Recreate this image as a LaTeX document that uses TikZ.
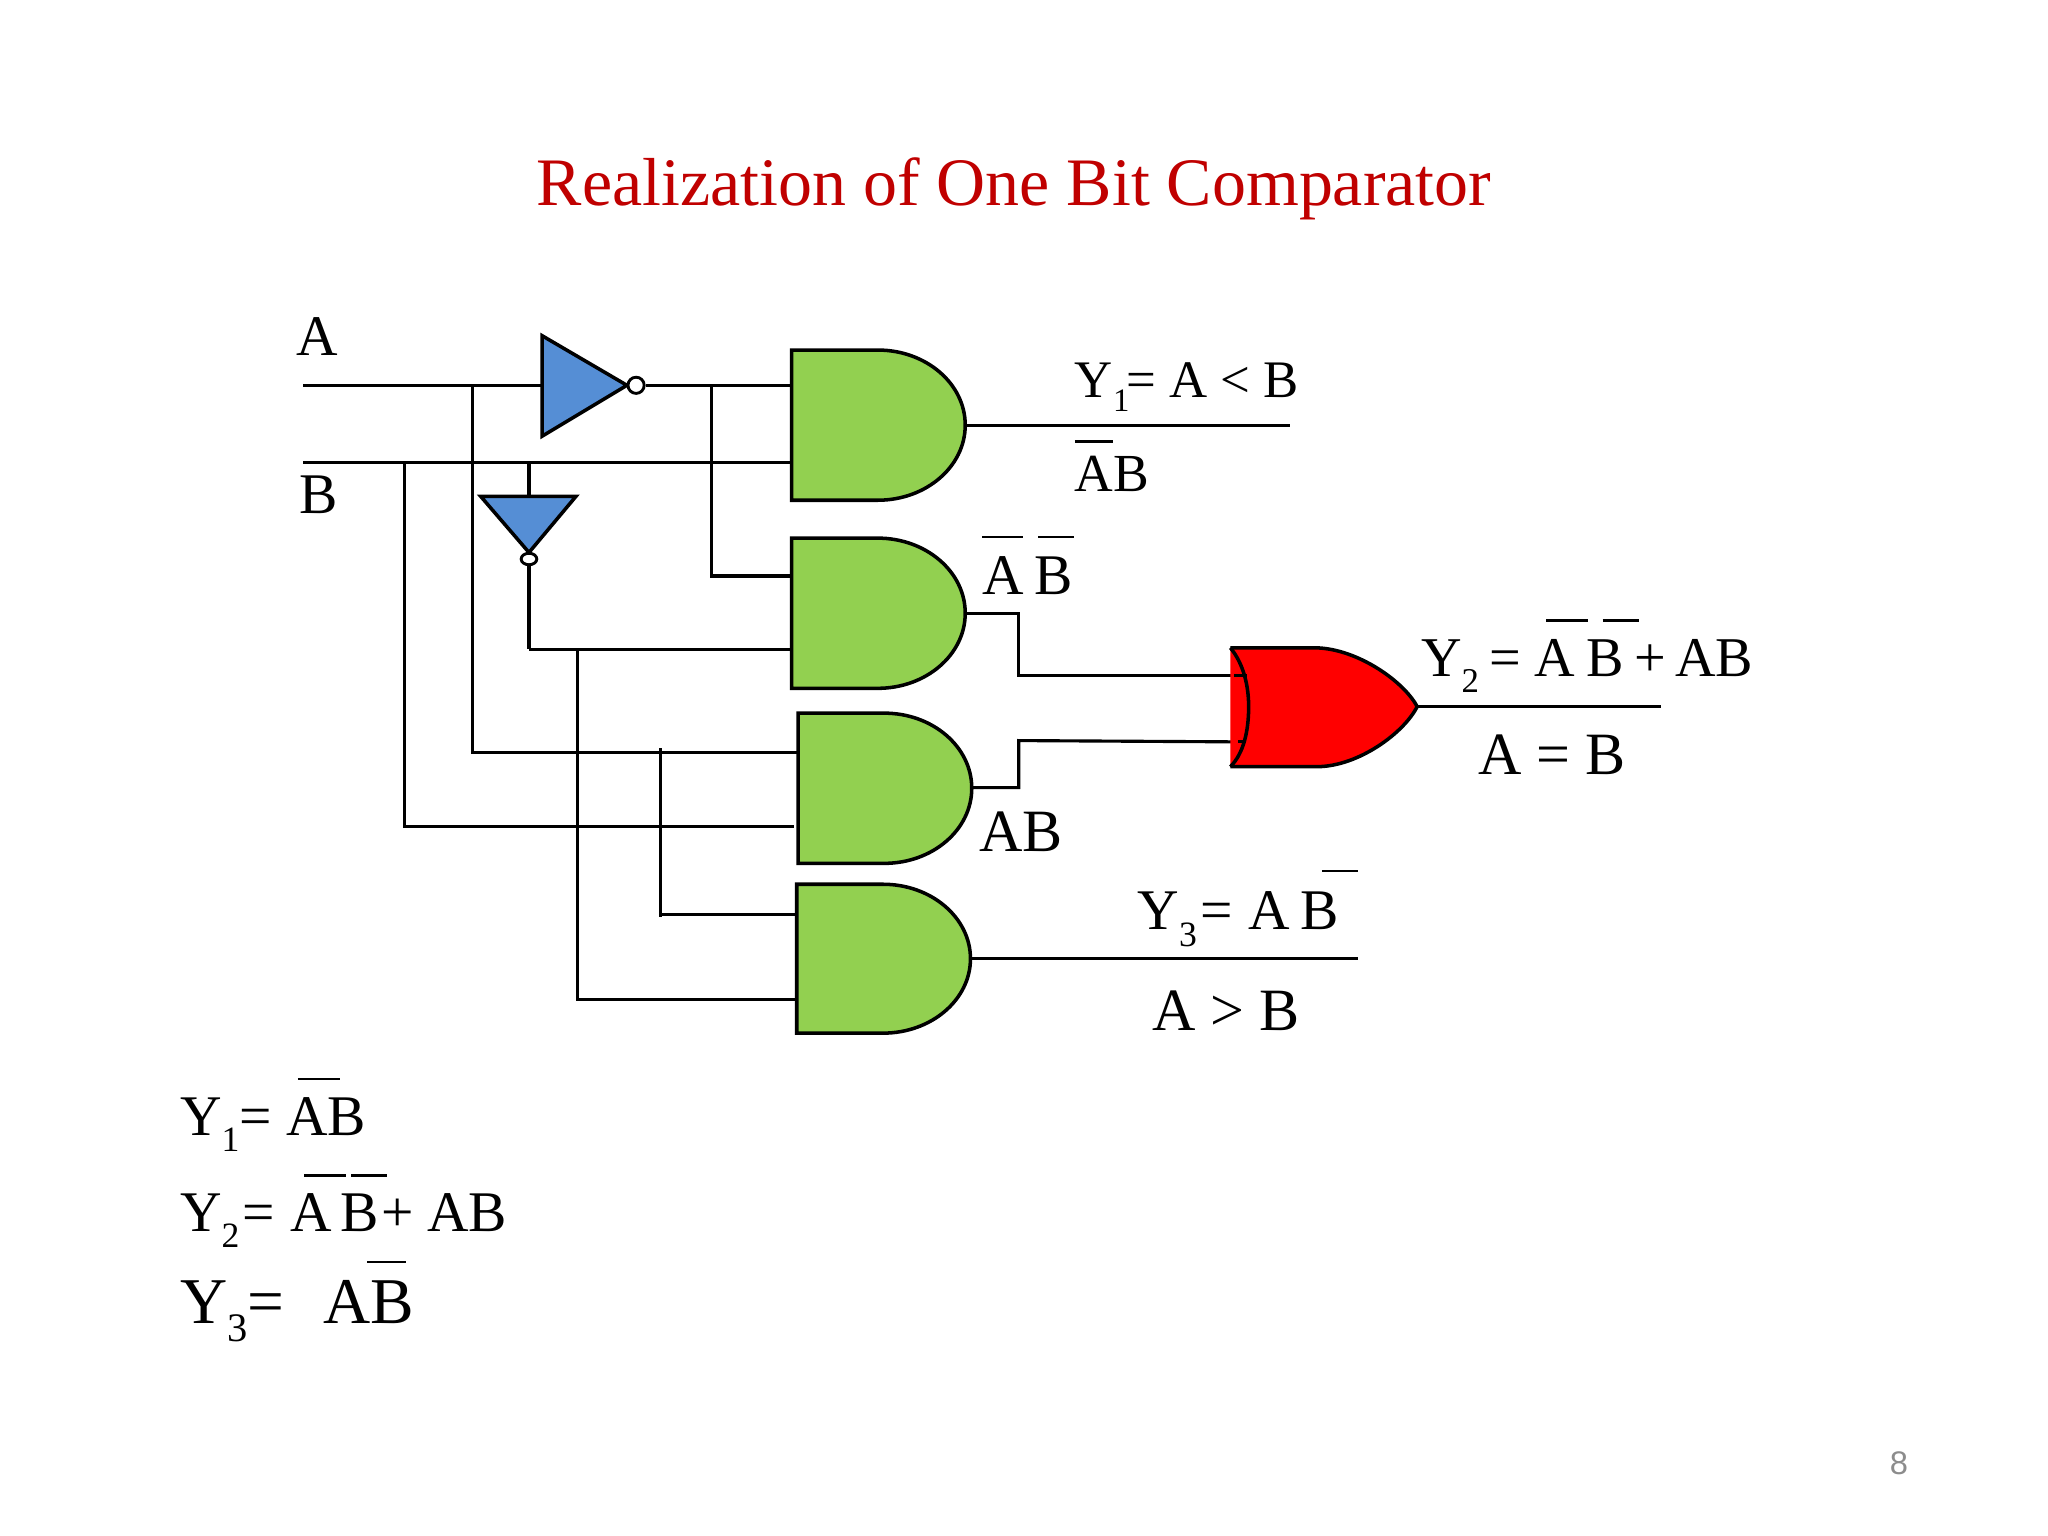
\documentclass[tikz,border=0pt]{standalone}
\usepackage{fontspec}
\setmainfont{Liberation Serif}
\newfontfamily\pagefont{Liberation Sans}
\definecolor{gatepng}{HTML}{92D050}
\definecolor{invblue}{HTML}{558ED5}
\definecolor{titlered}{HTML}{C00000}
\newcommand\sbs[1]{\raisebox{-.28em}{\scalebox{.62}{#1}}}
% \andgate{left}{top}{flat end}{right}{bottom}
\newcommand\andgate[5]{%
  \pgfmathsetmacro\rxx{#4-#3}\pgfmathsetmacro\ryy{(#5-#2)/2}%
  \draw[gateline,fill=gatepng] (#1,#2) -- (#3,#2) arc[start angle=-90,end angle=90,x radius=\rxx,y radius=\ryy] -- (#1,#5) -- cycle;}
\tikzset{
  x=0.5pt,y=-0.5pt,
  wire/.style={line width=1.2pt,line join=miter},
  gateline/.style={line width=1.35pt,line join=miter},
  lab/.style={anchor=base west,inner sep=0pt,outer sep=0pt,text=black},
  bar/.style={line width=.9pt},
  bubble/.style={circle,draw,line width=1.1pt,fill=white,inner sep=0pt,minimum size=6.2pt},
  bubblev/.style={ellipse,draw,line width=1.1pt,fill=white,inner sep=0pt,minimum width=6pt,minimum height=4.4pt},
}
\usetikzlibrary{shapes.geometric}
\begin{document}
\begin{tikzpicture}
\useasboundingbox[fill=white] (0,0) rectangle (1568,1176);
% title
\node[lab,text=titlered,font=\fontsize{26}{28}\selectfont] (title) at (411,157) {Realization of One Bit Comparator};
\node[lab,text=black!45,font=\pagefont\fontsize{12.5}{14}\selectfont] (pageno) at (1447,1129) {8};
% pins
\coordinate (Ain) at (232,295);
\coordinate (Bin) at (232,354);
\coordinate (inv1in) at (415,295);
\coordinate (ja1) at (362,295);
\coordinate (jb1) at (310,354);
\coordinate (jb2) at (405,354);
\coordinate (inv2in) at (405,380);
\coordinate (g1a) at (606,295);
\coordinate (g1b) at (606,354);
\coordinate (g1o) at (739,326);
\coordinate (y1end) at (988,326);
\coordinate (jn1) at (545,295);
\coordinate (g2a) at (606,441);
\coordinate (c2a) at (545,441);
\coordinate (g2b) at (606,497);
\coordinate (c2b) at (405,497);
\coordinate (jn2) at (442,497);
\coordinate (g2o) at (739,470);
\coordinate (c2o) at (780,470);
\coordinate (c2p) at (780,517);
\coordinate (ora) at (950,517);
\coordinate (g3a) at (611,576);
\coordinate (c3a) at (362,576);
\coordinate (j3t) at (506,573);
\coordinate (g3b) at (608,633);
\coordinate (c3b) at (310,633);
\coordinate (g3o) at (744,603);
\coordinate (c3o) at (780,603);
\coordinate (c3p) at (780,567);
\coordinate (orb) at (948,568);
\coordinate (g4a) at (610,700);
\coordinate (c4a) at (506,702);
\coordinate (c4ac) at (506,700);
\coordinate (g4b) at (610,765);
\coordinate (c4b) at (442,765);
\coordinate (g4o) at (743,734);
\coordinate (y3end) at (1040,734);
\coordinate (oro) at (1085,541);
\coordinate (y2end) at (1272,541);
% wires
\draw[wire] (Ain) -- (inv1in);
\draw[wire] (Bin) -- (g1b);
\draw[wire] (ja1) -- (c3a) -- (g3a);
\draw[wire] (jb1) -- (c3b) -- (g3b);
\draw[wire] (jb2) -- (inv2in);
\draw[wire] (jn1) -- (c2a) -- (g2a);
\draw[wire] (c2b) -- (g2b);
\draw[wire] (jn2) -- (c4b) -- (g4b);
\draw[wire] (j3t) -- (c4a);
\draw[wire] (c4ac) -- (g4a);
\draw[wire] (g1o) -- (y1end);
\draw[wire] (g2o) -- (c2o) -- (c2p) -- (ora);
\draw[wire] (g3o) -- (c3o) -- (c3p) -- (orb);
\draw[wire] (g4o) -- (y3end);
\draw[wire] (oro) -- (y2end);
% inverter 1
\draw[gateline,fill=invblue] (415,257) -- (480,295) -- (415,334) -- cycle;
\node[bubble] (inv1b) at (487,295) {};
\draw[wire] (inv1b) -- (g1a);
% inverter 2
\draw[gateline,fill=invblue] (368,380) -- (441,380) -- (405,423) -- cycle;
\node[bubblev] (inv2b) at (405,428) {};
\draw[wire] (inv2b) -- (c2b);
% gates
\andgate{606}{268}{672}{739}{383}
\andgate{606}{412}{672}{739}{527}
\andgate{611}{546}{677}{744}{661}
\andgate{610}{677}{676}{743}{791}
% or gate
\fill[red] (942,496) -- (1008,496) .. controls (1040,497) and (1075,522) .. (1085,541) .. controls (1075,561) and (1040,587) .. (1008,587) -- (942,587) -- cycle;
\draw[gateline] (942,496) -- (1008,496) .. controls (1040,497) and (1075,522) .. (1085,541) .. controls (1075,561) and (1040,587) .. (1008,587) -- (942,587);
\draw[gateline] (942,496) .. controls (952,508) and (956,525) .. (956,541) .. controls (956,560) and (952,577) .. (942,587);
\draw[wire] (945,517) -- (ora) -- (955,517);
\draw[wire] (948,568) -- (orb) -- (954,568);
% labels
\node[lab,font=\fontsize{22}{26}\selectfont] (lA) at (227,272) {A};
\node[lab,font=\fontsize{22}{26}\selectfont] (lB) at (229,393) {B};
\node[lab,font=\fontsize{20.2}{24}\selectfont] (ly1) at (823,304) {Y\sbs{1}\hspace{-1pt}= A < B};
\node[lab,font=\fontsize{20.5}{24}\selectfont] (lab1) at (823,376) {AB};
\draw[bar] (823,338) -- (852,338);
\node[lab,font=\fontsize{22}{24}\selectfont] (labn) at (752,455) {A\hspace{4pt}B};
\draw[bar] (752,411) -- (783,411);
\draw[bar] (795,411) -- (822,411);
\node[lab,font=\fontsize{23}{26}\selectfont] (lab3) at (750,652) {AB};
\node[lab,font=\fontsize{21.5}{24}\selectfont] (ly2) at (1088,518) {Y\sbs{2}\hspace{4pt}=\hspace{5pt}A\hspace{4.5pt}B\hspace{4pt}+\hspace{3.5pt}AB};
\draw[bar] (1184,475) -- (1216,475);
\draw[bar] (1227,475) -- (1255,475);
\node[lab,font=\fontsize{23}{26}\selectfont] (leq) at (1132,593) {A = B};
\node[lab,font=\fontsize{22}{26}\selectfont] (ly3) at (871,712) {Y\sbs{3}\hspace{1.5pt}= \hspace{.5pt}A\hspace{4pt}B};
\draw[bar] (1012,667) -- (1040,667);
\node[lab,font=\fontsize{23}{26}\selectfont] (lgt) at (882,789) {A > B};
\node[lab,font=\fontsize{22}{26}\selectfont] (e1) at (138,869) {Y\sbs{1}= AB};
\draw[bar] (228,826) -- (260,826);
\node[lab,font=\fontsize{22}{26}\selectfont] (e2) at (138,943) {Y\sbs{2}\hspace{1pt}= \hspace{.5pt}A\hspace{3.5pt}B\hspace{1pt}+\hspace{5pt}AB};
\draw[bar] (233,900) -- (265,900);
\draw[bar] (269,900) -- (296,900);
\node[lab,font=\fontsize{25}{28}\selectfont] (e3) at (138,1013) {Y\sbs{3}=\hspace{15pt}AB};
\draw[bar] (281,966) -- (311,966);
\end{tikzpicture}
\end{document}
